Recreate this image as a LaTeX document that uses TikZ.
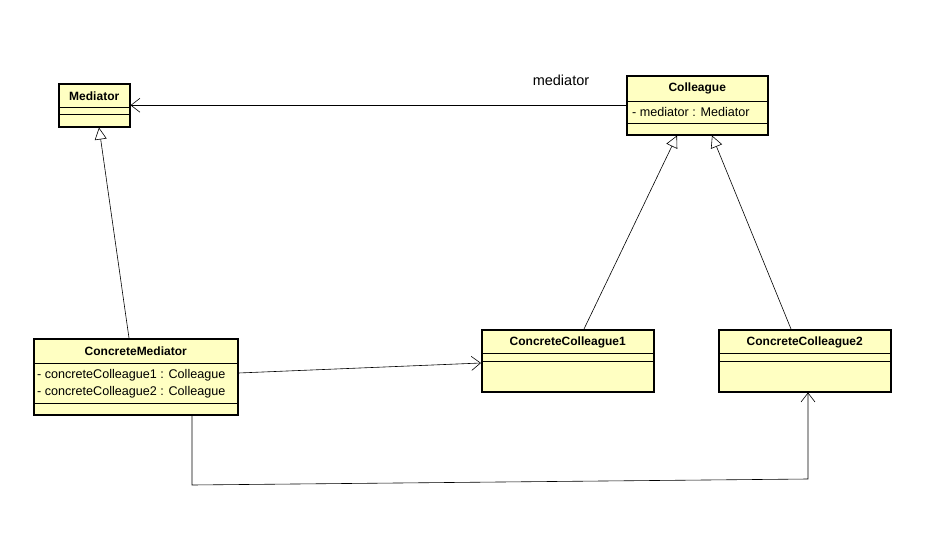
\documentclass[tikz,border=0pt]{standalone}
\usepackage{fontspec}
\setmainfont{Liberation Sans}
\usetikzlibrary{arrows.meta, calc}
\definecolor{umlyellow}{RGB}{255,255,194}

\begin{document}
\begin{tikzpicture}[x=1pt, y=-1pt,
  cls/.style={draw, line width=1.5pt, fill=umlyellow, anchor=north west, inner sep=0pt},
  ttl/.style={font=\fontsize{12}{14}\selectfont\bfseries, inner sep=0pt},
  attr/.style={font=\fontsize{12.6}{14}\selectfont, anchor=west, inner sep=0pt},
  sep/.style={line width=0.9pt},
  assoc/.style={-{Straight Barb[length=9pt, width=14pt]}, line width=0.6pt},
  gen/.style={-{Triangle[open, length=12pt, width=12pt]}, line width=0.6pt}]
  \useasboundingbox (0,0) rectangle (946,536);

  % classes
  \node[cls, minimum width=71pt,  minimum height=43pt] (med)  at (58,83)   {};
  \node[cls, minimum width=141pt, minimum height=59pt] (col)  at (626,75)  {};
  \node[cls, minimum width=204pt, minimum height=76pt] (cmed) at (33,338)  {};
  \node[cls, minimum width=172pt, minimum height=62pt] (cc1)  at (481,329) {};
  \node[cls, minimum width=172pt, minimum height=62pt] (cc2)  at (718,329) {};

  % compartments
  \draw[sep] ($(med.north west)+(0,24)$) -- ($(med.north east)+(0,24)$);
  \draw[sep] ($(med.north west)+(0,31)$) -- ($(med.north east)+(0,31)$);
  \draw[sep] ($(col.north west)+(0,26)$) -- ($(col.north east)+(0,26)$);
  \draw[sep] ($(col.north west)+(0,48)$) -- ($(col.north east)+(0,48)$);
  \draw[sep] ($(cmed.north west)+(0,25)$) -- ($(cmed.north east)+(0,25)$);
  \draw[sep] ($(cmed.north west)+(0,65)$) -- ($(cmed.north east)+(0,65)$);
  \draw[sep] ($(cc1.north west)+(0,24)$) -- ($(cc1.north east)+(0,24)$);
  \draw[sep] ($(cc1.north west)+(0,32)$) -- ($(cc1.north east)+(0,32)$);
  \draw[sep] ($(cc2.north west)+(0,24)$) -- ($(cc2.north east)+(0,24)$);
  \draw[sep] ($(cc2.north west)+(0,32)$) -- ($(cc2.north east)+(0,32)$);

  % names and attributes
  \node[ttl] (medname)  at ($(med.north)+(0,13)$)  {Mediator};
  \node[ttl] (colname)  at ($(col.north)+(0,13)$)  {Colleague};
  \node[ttl] (cmedname) at ($(cmed.north)+(0,13)$) {ConcreteMediator};
  \node[ttl] (cc1name)  at ($(cc1.north)+(0,13)$)  {ConcreteColleague1};
  \node[ttl] (cc2name)  at ($(cc2.north)+(0,13)$)  {ConcreteColleague2};
  \node[attr] (colattr)   at ($(col.north west)+(6,37)$)  {- mediator : Mediator};
  \node[attr] (cmedattr1) at ($(cmed.north west)+(4,37)$) {- concreteColleague1 : Colleague};
  \node[attr] (cmedattr2) at ($(cmed.north west)+(4,54)$) {- concreteColleague2 : Colleague};

  % relations
  \draw[assoc] (col.west) -- (med.east);
  \node[font=\fontsize{14.5}{16}\selectfont] (medrole) at (561,80) {mediator};
  \draw[gen] ($(cmed.north west)+(96,0)$) -- ($(med.south west)+(41,0)$);
  \draw[gen] ($(cc1.north west)+(103,0)$) -- ($(col.south west)+(51,0)$);
  \draw[gen] ($(cc2.north west)+(73,0)$) -- ($(col.south west)+(86,0)$);
  \draw[assoc] ($(cmed.north east)+(0,35)$) -- ($(cc1.north west)+(0,34)$);
  \coordinate (bendl) at (192,485);
  \coordinate (bendr) at (808,479);
  \draw[assoc] ($(cmed.south west)+(159,0)$) -- (bendl) -- (bendr)
    -- ($(cc2.south west)+(90,0)$);
\end{tikzpicture}
\end{document}
